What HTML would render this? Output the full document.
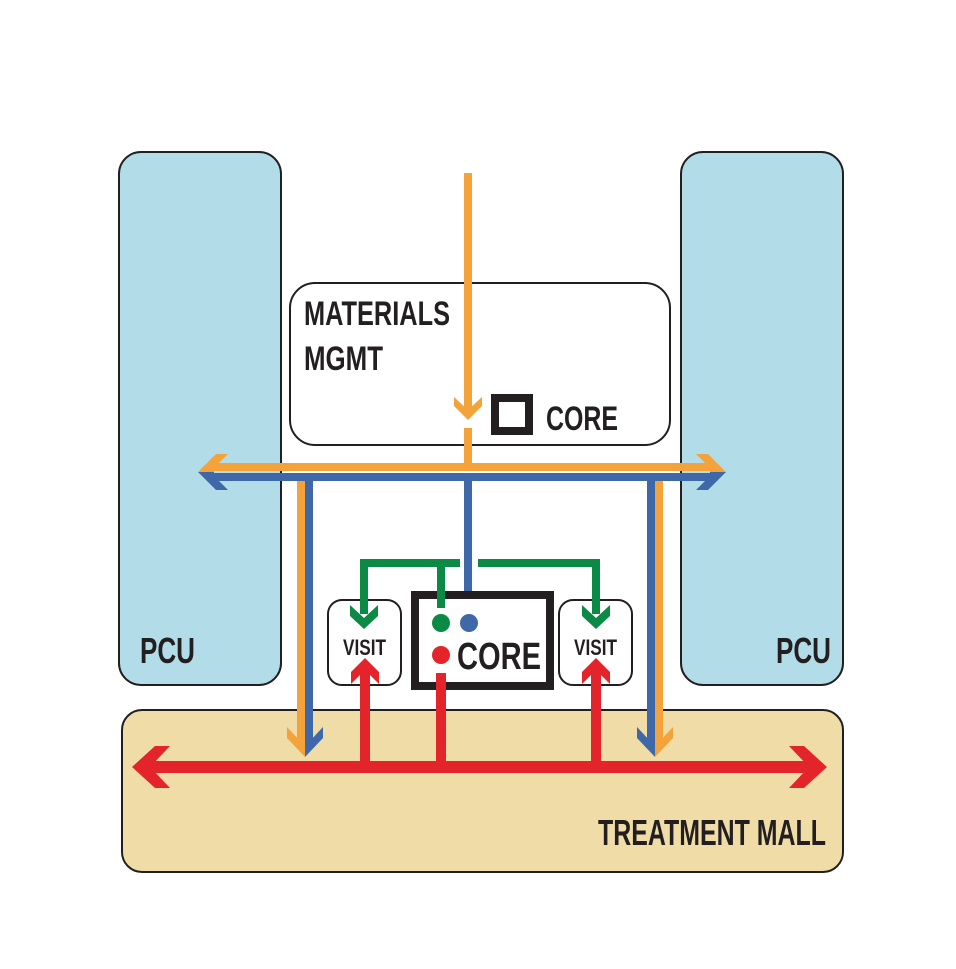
<!DOCTYPE html>
<html><head><meta charset="utf-8"><style>
html,body{margin:0;padding:0;background:#fff}
svg{display:block}
text{font-family:"Liberation Sans",sans-serif;font-weight:bold;fill:#231f20}
</style></head><body>
<svg width="956" height="969" viewBox="0 0 956 969" xmlns="http://www.w3.org/2000/svg">
<rect x="119" y="152" width="162" height="533" rx="22" fill="#b3dce9" stroke="#231f20" stroke-width="2"/>
<rect x="681" y="152" width="162" height="533" rx="22" fill="#b3dce9" stroke="#231f20" stroke-width="2"/>
<text x="140" y="663" font-size="36" textLength="55" lengthAdjust="spacingAndGlyphs">PCU</text>
<text x="776" y="663" font-size="36" textLength="55" lengthAdjust="spacingAndGlyphs">PCU</text>
<rect x="122" y="710" width="721" height="162" rx="20" fill="#f0dca6" stroke="#231f20" stroke-width="2"/>
<text x="598" y="845" font-size="36" textLength="228" lengthAdjust="spacingAndGlyphs">TREATMENT MALL</text>
<rect x="290" y="283" width="380" height="162" rx="25" fill="#fff" stroke="#231f20" stroke-width="2"/>
<text x="304" y="325" font-size="34" textLength="146" lengthAdjust="spacingAndGlyphs">MATERIALS</text>
<text x="304" y="370" font-size="34" textLength="79" lengthAdjust="spacingAndGlyphs">MGMT</text>
<rect x="495" y="398" width="34" height="33" fill="none" stroke="#231f20" stroke-width="8"/>
<text x="546" y="430" font-size="34" textLength="72" lengthAdjust="spacingAndGlyphs">CORE</text>

<rect x="464" y="173" width="8" height="240" fill="#f4a33b"/>
<polygon points="454,397 468,410 482,397 482,406 468,420 454,406" fill="#f4a33b"/>
<rect x="464" y="428" width="8" height="40" fill="#f4a33b"/>

<rect x="210" y="463" width="500" height="8" fill="#f4a33b"/>
<rect x="210" y="473" width="500" height="8" fill="#3e68a8"/>
<polygon points="198,472 216,454 228,454 214,468 214,472" fill="#f4a33b"/>
<polygon points="198,472 216,490 228,490 214,476 214,472" fill="#3e68a8"/>
<polygon points="726,472 708,454 696,454 710,468 710,472" fill="#f4a33b"/>
<polygon points="726,472 708,490 696,490 710,476 710,472" fill="#3e68a8"/>

<rect x="297" y="481" width="8" height="262" fill="#f4a33b"/>
<rect x="305" y="481" width="8" height="262" fill="#3e68a8"/>
<polygon points="305,757 287,738 287,727 301,742 305,742" fill="#f4a33b"/>
<polygon points="305,757 323,738 323,727 309,742 305,742" fill="#3e68a8"/>
<rect x="647" y="481" width="8" height="262" fill="#3e68a8"/>
<rect x="655" y="481" width="8" height="262" fill="#f4a33b"/>
<polygon points="655,757 637,738 637,727 651,742 655,742" fill="#3e68a8"/>
<polygon points="655,757 673,738 673,727 659,742 655,742" fill="#f4a33b"/>

<rect x="464" y="481" width="8" height="127" fill="#3e68a8"/>

<rect x="328" y="600" width="73" height="85" rx="14" fill="#fff" stroke="#231f20" stroke-width="2"/>
<rect x="559" y="600" width="73" height="85" rx="14" fill="#fff" stroke="#231f20" stroke-width="2"/>
<text x="343" y="655" font-size="22" textLength="43" lengthAdjust="spacingAndGlyphs">VISIT</text>
<text x="574" y="655" font-size="22" textLength="43" lengthAdjust="spacingAndGlyphs">VISIT</text>

<rect x="415" y="595" width="135" height="91" fill="#fff" stroke="#231f20" stroke-width="8"/>
<text x="457" y="669" font-size="38" textLength="84" lengthAdjust="spacingAndGlyphs">CORE</text>
<circle cx="441" cy="623" r="9" fill="#0a8a45"/>
<circle cx="469" cy="623" r="9" fill="#3e68a8"/>
<circle cx="441" cy="655" r="9" fill="#e3242b"/>

<rect x="360" y="559" width="100" height="8" fill="#0a8a45"/>
<rect x="478" y="559" width="122" height="8" fill="#0a8a45"/>
<rect x="437" y="559" width="8" height="49" fill="#0a8a45"/>
<rect x="360" y="559" width="8" height="55" fill="#0a8a45"/>
<rect x="592" y="559" width="8" height="55" fill="#0a8a45"/>
<polygon points="350,605 364,618 378,605 378,616 364,629 350,616" fill="#0a8a45"/>
<polygon points="582,605 596,618 610,605 610,616 596,629 582,616" fill="#0a8a45"/>

<rect x="148" y="761" width="664" height="12" fill="#e3242b"/>
<polygon points="132,767 155,746 170,746 150,767 170,788 155,788" fill="#e3242b"/>
<polygon points="827,767 804,746 789,746 809,767 789,788 804,788" fill="#e3242b"/>
<rect x="360" y="670" width="10" height="97" fill="#e3242b"/>
<rect x="591" y="670" width="10" height="97" fill="#e3242b"/>
<rect x="436" y="673" width="10" height="94" fill="#e3242b"/>
<polygon points="365,658 351,672 351,684 365,670 379,684 379,672" fill="#e3242b"/>
<polygon points="596,658 582,672 582,684 596,670 610,684 610,672" fill="#e3242b"/>
</svg>
</body></html>
